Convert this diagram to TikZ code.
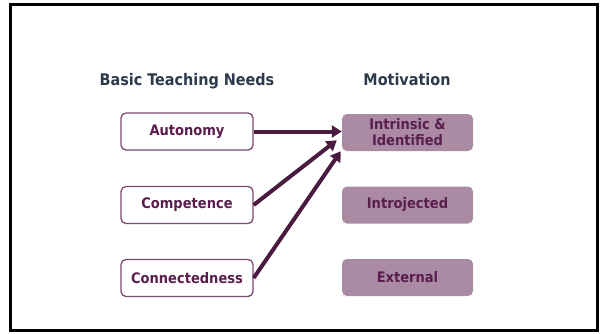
\documentclass[tikz,border=0pt]{standalone}
\usepackage{fontspec}
\setmainfont{DejaVu Sans Condensed}
\usetikzlibrary{arrows.meta}
\definecolor{plum}{HTML}{5A1E4E}
\definecolor{plumdark}{HTML}{4B1A40}
\definecolor{plumline}{HTML}{7A4A6F}
\definecolor{plumfill}{HTML}{AA8BA3}
\definecolor{slate}{HTML}{2C3A4B}
\begin{document}
\begin{tikzpicture}[x=1pt, y=-1pt,
  need/.style={draw=plumline, line width=1.3pt, rounded corners=5pt, fill=white, minimum width=132pt, minimum height=37pt, text=plum, font=\fontsize{14.5}{16}\selectfont\bfseries},
  motive/.style={fill=plumfill, rounded corners=5pt, minimum width=131pt, minimum height=37pt, text=plum, align=center, font=\fontsize{14.5}{16}\selectfont\bfseries},
  heading/.style={anchor=base, text=slate, font=\fontsize{16}{18}\selectfont\bfseries},
  link/.style={draw=plumdark, line width=4pt, -{Triangle[length=10pt,width=12pt]}}]
\useasboundingbox (0,0) rectangle (605,333);
\draw[line width=3pt] (10.5,4.5) rectangle (597.5,330.5);

\node (needs) at (187, 85) [heading] {Basic Teaching Needs};
\node (motivation) at (407, 85) [heading] {Motivation};

\node (aut) at (187, 131.5) [need] {Autonomy};
\node (comp) at (187, 205) [need] {Competence};
\node (conn) at (187, 278) [need] {Connectedness};

\node (intr) at (407.5, 132.5) [motive] {Intrinsic \&\\Identified};
\node (intro) at (407.5, 205) [motive] {Introjected};
\node (ext) at (407.5, 277.5) [motive] {External};

\draw[link] (aut.east) to (aut.east -| intr.west);
\draw[link] (comp.east) to ([shift={(-5,-11)}]intr.south west);
\draw[link] (conn.east) to ([shift={(-1,0)}]intr.south west);
\end{tikzpicture}
\end{document}
